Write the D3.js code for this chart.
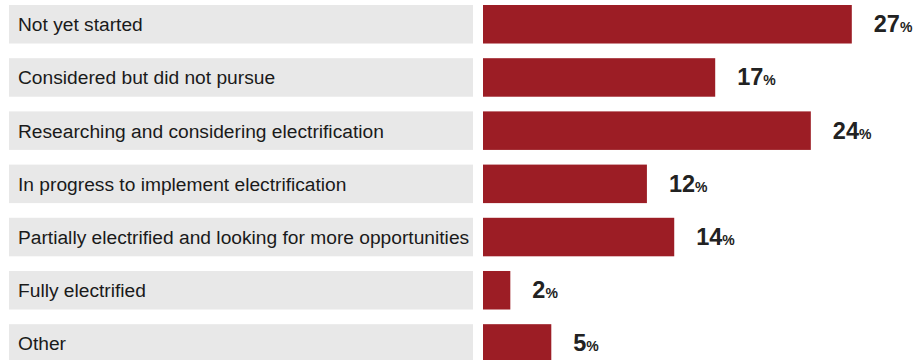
<!DOCTYPE html>
<html>
<head>
<meta charset="utf-8">
<script src="https://cdn.jsdelivr.net/npm/d3@7"></script>
<style>
  html, body { margin: 0; padding: 0; background: #fff; }
  svg { display: block; }
</style>
</head>
<body>
<div id="chart"></div>
<script>
// Survey responses: stage of electrification
const categories = [
  "Not yet started",
  "Considered but did not pursue",
  "Researching and considering electrification",
  "In progress to implement electrification",
  "Partially electrified and looking for more opportunities",
  "Fully electrified",
  "Other"
];
const values = [27, 17, 24, 12, 14, 2, 5];

const width = 919, height = 360;

const svg = d3.select("#chart").append("svg")
  .attr("width", width)
  .attr("height", height);

const rows = categories.map((c, i) => ({ category: c, value: values[i] }));

const y = d3.scaleBand()
  .domain(categories)
  .range([5, 362.7])
  .paddingInner(0.276)
  .paddingOuter(0);

const x = d3.scaleLinear()
  .domain([0, 27])
  .range([483, 851.8]);

const row = svg.selectAll("g.row")
  .data(rows)
  .join("g")
  .attr("class", "row")
  .attr("transform", d => `translate(0,${y(d.category)})`);

// grey label panel
row.append("rect")
  .attr("x", 9)
  .attr("width", 464)
  .attr("height", y.bandwidth())
  .attr("fill", "#e8e8e8");

row.append("text")
  .attr("x", 18)
  .attr("y", y.bandwidth() / 2 + 7)
  .attr("font-family", "'Liberation Sans', Arial, sans-serif")
  .attr("font-size", 19.2)
  .attr("fill", "#1a1a1a")
  .text(d => d.category);

// value bar
row.append("rect")
  .attr("x", x(0))
  .attr("width", d => x(d.value) - x(0))
  .attr("height", y.bandwidth())
  .attr("fill", "#9c1d25");

// value label
const lab = row.append("text")
  .attr("x", d => x(d.value) + 22)
  .attr("y", y.bandwidth() / 2 + 8)
  .attr("font-family", "'Liberation Sans', Arial, sans-serif")
  .attr("font-weight", "bold")
  .attr("fill", "#222");

lab.append("tspan")
  .attr("font-size", 23.5)
  .text(d => d.value);

lab.append("tspan")
  .attr("font-size", 14)
  .text("%");
</script>
</body>
</html>
